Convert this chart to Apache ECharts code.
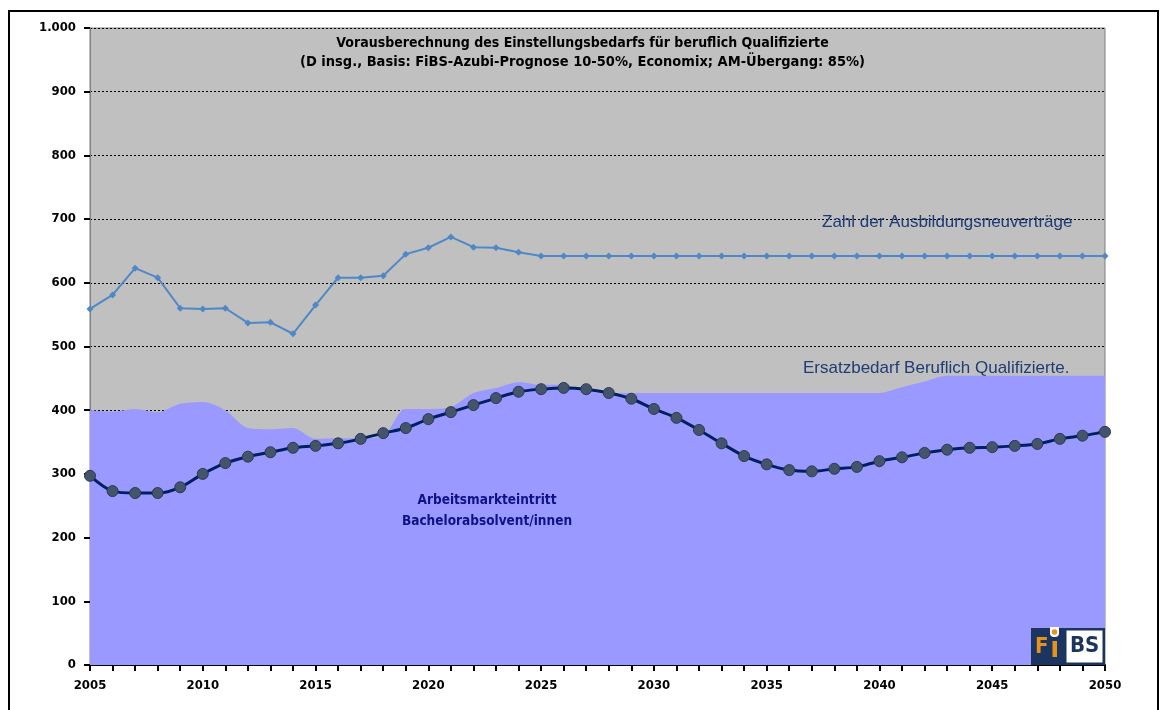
<!DOCTYPE html>
<html>
<head>
<meta charset="utf-8">
<script src="https://cdn.jsdelivr.net/npm/echarts@6/dist/echarts.min.js"></script>
<style>
  html, body { margin: 0; padding: 0; background: #fff; }
  #chart { width: 1165px; height: 710px; }
</style>
</head>
<body>
<div id="chart"></div>
<script>
// Jahre 2005 - 2050
const years = []
for (let y = 2005; y <= 2050; y++) years.push(String(y))

// Zahl der Ausbildungsneuverträge (in Tsd.)
const ausbildung = [
  559, 581, 623, 608, 560, 559, 560, 537, 538, 520,
  565, 608, 608, 611, 645, 655, 672, 656, 655, 648,
  642, 642, 642, 642, 642, 642, 642, 642, 642, 642,
  642, 642, 642, 642, 642, 642, 642, 642, 642, 642,
  642, 642, 642, 642, 642, 642
]

// Ersatzbedarf beruflich Qualifizierte (Fläche)
const ersatzbedarf = [
  400, 398, 402, 397, 410, 413, 400, 372, 370, 372,
  355, 356, 356, 360, 402, 402, 405, 427, 435, 444,
  440, 440, 430, 427, 427, 427, 427, 427, 427, 427,
  427, 427, 427, 427, 427, 427, 436, 445, 454, 454,
  454, 454, 454, 454, 454, 454
]

// Arbeitsmarkteintritt Bachelorabsolvent/innen
const bachelor = [
  297, 273, 270, 270, 279, 300, 317, 327, 334, 341,
  344, 348, 355, 364, 372, 386, 397, 408, 419, 429,
  433, 435, 433, 427, 418, 402, 388, 369, 348, 328,
  315, 306, 304, 308, 311, 320, 326, 333, 338, 341,
  342, 344, 347, 355, 360, 366
]

const yTicks = [0, 100, 200, 300, 400, 500, 600, 700, 800, 900, 1000]

const chart = echarts.init(document.getElementById('chart'))
const narrow = '"DejaVu Sans Condensed", sans-serif'

// Logo-Elemente (FiBS), jeweils mit eigenem z
const logoZ = 100
const logo = [
  { type: 'rect', shape: { x: 1031, y: 628, width: 74, height: 37 }, style: { fill: '#1b3460' } },
  { type: 'rect', shape: { x: 1050, y: 627, width: 9, height: 10, r: [0, 0, 4, 4] }, style: { fill: '#fff' } },
  { type: 'circle', shape: { cx: 1054.5, cy: 632, r: 2.8 }, style: { fill: '#e8921e' } },
  { type: 'rect', shape: { x: 1066, y: 630, width: 37, height: 33 }, style: { fill: '#fff', stroke: '#1b3460', lineWidth: 1 } },
  { type: 'text', x: 1035, y: 636, style: { text: 'F', font: 'bold 22px "DejaVu Sans Condensed", sans-serif', fill: '#e8921e' } },
  { type: 'rect', shape: { x: 1052.5, y: 641, width: 4.5, height: 16 }, style: { fill: '#e8921e' } },
  { type: 'text', x: 1070, y: 635, style: { text: 'BS', font: 'bold 22px "DejaVu Sans Condensed", sans-serif', fill: '#1b3460' } }
].map(function (el, i) {
  el.z = logoZ + i
  el.silent = true
  return el
})

chart.setOption({
  backgroundColor: '#fff',
  animation: false,
  grid: {
    left: 90,
    right: 60,
    top: 28,
    bottom: 45,
    show: true,
    backgroundColor: '#c0c0c0',
    borderColor: '#808080',
    borderWidth: 1
  },
  xAxis: {
    type: 'category',
    data: years,
    boundaryGap: false,
    axisLine: { lineStyle: { color: '#000', width: 2 } },
    axisTick: { interval: 0, length: 6, lineStyle: { color: '#000', width: 2 } },
    axisLabel: {
      interval: 4,
      color: '#000',
      fontWeight: 'bold',
      fontSize: 13,
      fontFamily: narrow,
      margin: 14
    },
    splitLine: { show: false }
  },
  yAxis: {
    type: 'value',
    min: 0,
    max: 1000,
    interval: 100,
    axisLine: { show: true, lineStyle: { color: '#808080', width: 1 } },
    axisTick: { show: true, length: 6, lineStyle: { color: '#000', width: 2 } },
    axisLabel: {
      color: '#000',
      fontWeight: 'bold',
      fontSize: 13,
      fontFamily: narrow,
      margin: 14,
      formatter: function (v) {
        return yTicks.indexOf(v) >= 0 ? v.toLocaleString('de-DE') : ''
      }
    },
    splitLine: { lineStyle: { color: '#000', type: [2, 2], width: 1 } }
  },
  series: [{
    name: 'Ersatzbedarf Beruflich Qualifizierte',
    type: 'line',
    data: ersatzbedarf,
    smooth: 0.3,
    symbol: 'none',
    lineStyle: { width: 0 },
    areaStyle: { color: '#9999ff', opacity: 1 },
    z: 2
  }, {
    name: 'Zahl der Ausbildungsneuverträge',
    type: 'line',
    data: ausbildung,
    symbol: 'diamond',
    symbolSize: 7,
    lineStyle: { color: '#4f88c6', width: 2 },
    itemStyle: { color: '#4f88c6' },
    z: 3
  }, {
    name: 'Arbeitsmarkteintritt Bachelorabsolvent/innen',
    type: 'line',
    data: bachelor,
    smooth: 0.3,
    symbol: 'circle',
    symbolSize: 11,
    lineStyle: { color: '#002060', width: 3 },
    itemStyle: { color: '#44546a', borderColor: '#2c3a55', borderWidth: 1 },
    z: 4
  }],
  graphic: [
    // Rahmen
    {
      type: 'rect',
      shape: { x: 9, y: 11, width: 1149, height: 720 },
      style: { fill: 'none', stroke: '#000', lineWidth: 2 },
      silent: true,
      z: 100
    },
    // Titel
    {
      type: 'text',
      left: 'center',
      top: 36,
      z: 100,
      style: {
        text: 'Vorausberechnung des Einstellungsbedarfs für beruflich Qualifizierte',
        font: 'bold 14px ' + narrow,
        fill: '#000'
      }
    },
    {
      type: 'text',
      left: 'center',
      top: 55,
      z: 100,
      style: {
        text: '(D insg., Basis: FiBS-Azubi-Prognose 10-50%, Economix; AM-Übergang: 85%)',
        font: 'bold 14.5px ' + narrow,
        fill: '#000'
      }
    },
    // Serienbeschriftungen
    {
      type: 'text',
      x: 822,
      y: 214,
      z: 100,
      style: {
        text: 'Zahl der Ausbildungsneuverträge',
        font: '17px "Liberation Sans", Arial, sans-serif',
        fill: '#1f3c74'
      }
    },
    {
      type: 'text',
      x: 803,
      y: 360,
      z: 1,
      style: {
        text: 'Ersatzbedarf Beruflich Qualifizierte.',
        font: '17px "Liberation Sans", Arial, sans-serif',
        fill: '#1f3c74'
      }
    },
    {
      type: 'text',
      x: 487,
      y: 490,
      z: 100,
      style: {
        text: 'Arbeitsmarkteintritt\nBachelorabsolvent/innen',
        font: 'bold 13.5px ' + narrow,
        fill: '#101088',
        align: 'center',
        lineHeight: 21
      }
    }
  ].concat(logo)
})
</script>
</body>
</html>
